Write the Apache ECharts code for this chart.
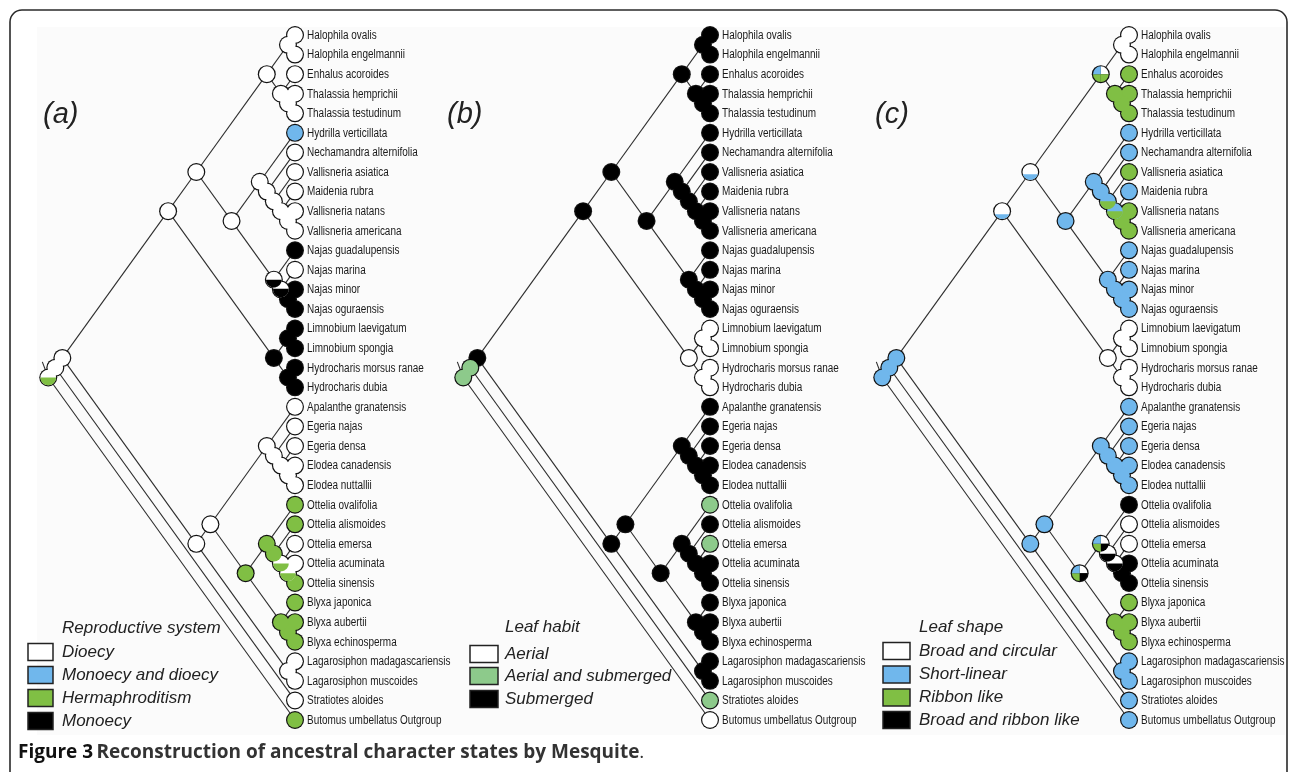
<!DOCTYPE html>
<html><head><meta charset="utf-8">
<script src="https://cdn.jsdelivr.net/npm/echarts@6/dist/echarts.min.js"></script>
<style>html,body{margin:0;padding:0;background:#fff}#c{width:1290px;height:772px}</style>
</head><body><div id="c"></div><script>
// ---------------- data ----------------
const taxa = ['Halophila ovalis','Halophila engelmannii','Enhalus acoroides','Thalassia hemprichii','Thalassia testudinum','Hydrilla verticillata','Nechamandra alternifolia','Vallisneria asiatica','Maidenia rubra','Vallisneria natans','Vallisneria americana','Najas guadalupensis','Najas marina','Najas minor','Najas oguraensis','Limnobium laevigatum','Limnobium spongia','Hydrocharis morsus ranae','Hydrocharis dubia','Apalanthe granatensis','Egeria najas','Egeria densa','Elodea canadensis','Elodea nuttallii','Ottelia ovalifolia','Ottelia alismoides','Ottelia emersa','Ottelia acuminata','Ottelia sinensis','Blyxa japonica','Blyxa aubertii','Blyxa echinosperma','Lagarosiphon madagascariensis','Lagarosiphon muscoides','Stratiotes aloides','Butomus umbellatus Outgroup'];
// topology (leaf indices into taxa)
const tree = [[[[[[[0,1],[2,[3,4]]],[[5,[6,[7,[8,[9,10]]]]],[11,[12,[13,14]]]]],[[15,16],[17,18]]],[[[19,[20,[21,[22,23]]]],[[24,[25,[26,[27,28]]]],[29,[30,31]]]],[32,33]]],34],35];

const panelLabels = ['(a)','(b)','(c)'];
const legendTitles = ['Reproductive system','Leaf habit','Leaf shape'];
const stateNamesA = ['Dioecy','Monoecy and dioecy','Hermaphroditism','Monoecy'];
const stateNamesB = ['Aerial','Aerial and submerged','Submerged'];
const stateNamesC = ['Broad and circular','Short-linear','Ribbon like','Broad and ribbon like'];
const stateColorsA = ['#ffffff','#70b7ec','#80bf44','#000000'];
const stateColorsB = ['#ffffff','#8dca8b','#000000'];
const stateColorsC = ['#ffffff','#70b7ec','#80bf44','#000000'];

const leafStatesA = [0,0,0,0,0,1,0,0,0,0,0,3,0,3,3,3,3,3,3,0,0,0,0,0,2,2,0,0,2,2,2,2,0,0,0,2];
const leafStatesB = [2,2,2,2,2,2,2,2,2,2,2,2,2,2,2,0,0,0,0,2,2,2,2,2,1,2,1,2,2,2,2,2,2,2,1,0];
const leafStatesC = [0,0,2,2,2,1,1,2,1,2,2,1,1,1,1,0,0,0,0,1,1,1,1,1,3,0,0,3,3,2,2,2,1,1,1,1];

// internal node states keyed by leaf span "first-last"
// number = single state; {h:[top,bottom,frac]} = split; {q:[TR,BR,BL,TL]} = quarters
const nodeDefaultA = 0;
const nodeStatesA = {'11-14':{h:[0,3,0.5]},'12-14':{h:[0,3,0.55]},'13-14':3,'15-16':3,'17-18':3,'15-18':3,
  '24-28':2,'25-28':2,'26-28':{h:[0,2,0.5]},'27-28':{h:[0,2,0.5]},'24-31':2,'29-31':2,'30-31':2,'0-35':{h:[0,2,0.5]}};
const nodeDefaultB = 2;
const nodeStatesB = {'15-16':0,'17-18':0,'15-18':0,'0-34':1,'0-35':1};
const nodeDefaultC = 1;
const nodeStatesC = {'0-1':0,'3-4':2,'2-4':2,'0-4':{q:[0,2,2,1]},'0-14':{h:[0,1,0.35]},'0-18':{h:[0,1,0.3]},
  '7-10':{h:[1,2,0.5]},'8-10':{h:[1,2,0.5]},'9-10':2,'15-16':0,'17-18':0,'15-18':0,
  '24-31':{q:[0,3,2,1]},'24-28':{q:[0,3,2,1]},'25-28':{h:[0,3,0.5]},'26-28':{h:[0,3,0.5]},'27-28':3,'29-31':2,'30-31':2};

// ---------------- layout from topology ----------------
function buildTree(t){
  const nodes=[], edges=[];
  function rec(n){
    if (typeof n === 'number'){ const o={first:n,last:n,x:0,y:n,leaf:n}; nodes.push(o); return o; }
    const a=rec(n[0]), b=rec(n[1]);
    const o={first:a.first,last:b.last,x:-(b.last-a.first)/2,y:(a.first+b.last)/2,leaf:-1};
    edges.push([o.x,o.y,a.x,a.y]); edges.push([o.x,o.y,b.x,b.y]);
    nodes.push(o); return o;
  }
  const root=rec(t);
  edges.push([root.x,root.y,root.x-0.42,root.y-0.8]); // root stem
  return {nodes,edges};
}
const T = buildTree(tree);
const panels = [
  {colors:stateColorsA, names:stateNamesA, leaf:leafStatesA, def:nodeDefaultA, states:nodeStatesA},
  {colors:stateColorsB, names:stateNamesB, leaf:leafStatesB, def:nodeDefaultB, states:nodeStatesB},
  {colors:stateColorsC, names:stateNamesC, leaf:leafStatesC, def:nodeDefaultC, states:nodeStatesC}
];
function specOf(p,n){
  const P=panels[p];
  if (n.leaf>=0) return P.leaf[n.leaf];
  const k=n.first+'-'+n.last;
  return (k in P.states)? P.states[k] : P.def;
}

const leafPx = [295, 710, 1129];
const XU = 14.1; // px per x unit
const R = 7.8;

const grids=[], xAxes=[], yAxes=[], series=[];
panels.forEach((P,p)=>{
  grids.push({left: leafPx[p]-18*XU, width: 18*XU, top:35, height:685});
  xAxes.push({type:'value', gridIndex:p, min:-18, max:0, show:false});
  yAxes.push({type:'value', gridIndex:p, min:0, max:35, inverse:true, show:false});
  series.push({type:'custom', xAxisIndex:p, yAxisIndex:p, clip:false, silent:true, z:1,
    data:T.edges, encode:{x:[0,2],y:[1,3]},
    renderItem:(params,api)=>{
      const a=api.coord([api.value(0),api.value(1)]), b=api.coord([api.value(2),api.value(3)]);
      return {type:'line', shape:{x1:a[0],y1:a[1],x2:b[0],y2:b[1]}, style:{stroke:'#2d2d2d',lineWidth:1.1}};
    }});
  const nd = T.nodes.map((n,i)=>[n.x,n.y,i]);
  series.push({type:'custom', xAxisIndex:p, yAxisIndex:p, clip:false, silent:true, z:2,
    data:nd, encode:{x:0,y:1},
    renderItem:(params,api)=>{
      const c=api.coord([api.value(0),api.value(1)]);
      return {type:'circle', shape:{cx:c[0],cy:c[1],r:R+1.2}, style:{fill:'#111'}};
    }});
  series.push({type:'custom', xAxisIndex:p, yAxisIndex:p, clip:false, silent:true, z:3,
    data:nd, encode:{x:0,y:1},
    renderItem:(params,api)=>{
      const c=api.coord([api.value(0),api.value(1)]);
      const n=T.nodes[api.value(2)];
      const s=specOf(p,n), col=P.colors, cx=c[0], cy=c[1];
      const ch=[];
      if (typeof s==='number'){
        ch.push({type:'circle', shape:{cx,cy,r:R}, style:{fill:col[s]}});
      } else if (s.h){
        ch.push({type:'circle', shape:{cx,cy,r:R}, style:{fill:col[s.h[0]]}});
        const y0=cy+R-2*R*s.h[2];
        const a0=Math.asin(Math.max(-1,Math.min(1,(y0-cy)/R)));
        const pts=[];
        for(let i=0;i<=24;i++){const t=a0+(Math.PI-2*a0)*i/24; pts.push([cx+R*Math.cos(t), cy+R*Math.sin(t)]);}
        ch.push({type:'polygon', shape:{points:pts}, style:{fill:col[s.h[1]]}});
      } else if (s.q){
        s.q.forEach((st,i)=>{
          const a=-Math.PI/2+i*Math.PI/2;
          ch.push({type:'sector', shape:{cx,cy,r0:0,r:R,startAngle:a,endAngle:a+Math.PI/2,clockwise:true}, style:{fill:col[st]}});
        });
      }
      return {type:'group', children:ch};
    }});
  series.push({type:'custom', xAxisIndex:p, yAxisIndex:p, clip:false, silent:true, z:4,
    data:taxa.map((t,i)=>[0,i,i]), encode:{x:0,y:1},
    renderItem:(params,api)=>{
      const c=api.coord([api.value(0),api.value(1)]);
      return {type:'text', x:c[0]+12, y:c[1]+0.5, scaleX:0.81,
        style:{x:0,y:0,text:taxa[api.value(2)], fill:'#1a1a1a', font:'12.3px "Liberation Sans", Arial, sans-serif', verticalAlign:'middle', align:'left'}};
    }});
});

// ---------------- graphics: frame, panel labels, legends, caption ----------------
const graphic=[];
graphic.push({type:'rect', z:-10, shape:{x:37,y:27,width:1248,height:708}, style:{fill:'#fbfbfb'}});
graphic.push({type:'rect', z:-5, shape:{x:10,y:10,width:1277,height:820,r:12}, style:{fill:'none',stroke:'#2a2a2a',lineWidth:1.6}});
const labelX=[43,447,875];
panelLabels.forEach((t,p)=>graphic.push({type:'text', x:labelX[p], y:115, style:{text:t, font:'italic 29px "Liberation Sans", Arial, sans-serif', fill:'#222', verticalAlign:'middle'}}));
const leg=[
  {bx:28,bw:25,tx:62,ty:628,rows:[652,675,698,721]},
  {bx:470,bw:28,tx:505,ty:627,rows:[654,676,699]},
  {bx:883,bw:27,tx:919,ty:627,rows:[651,674.5,697.5,720]}
];
panels.forEach((P,p)=>{
  const L=leg[p];
  graphic.push({type:'text', x:L.tx, y:L.ty, style:{text:legendTitles[p], font:'italic 17px "Liberation Sans", Arial, sans-serif', fill:'#222', verticalAlign:'middle'}});
  P.names.forEach((nm,i)=>{
    graphic.push({type:'rect', shape:{x:L.bx,y:L.rows[i]-8.5,width:L.bw,height:17}, style:{fill:P.colors[i],stroke:'#222',lineWidth:1.5}});
    graphic.push({type:'text', x:L.tx, y:L.rows[i], style:{text:nm, font:'italic 17px "Liberation Sans", Arial, sans-serif', fill:'#222', verticalAlign:'middle'}});
  });
});
graphic.push({type:'text', x:18, y:753, style:{
  text:'{a|Figure 3} {b|Reconstruction of ancestral character states by Mesquite}{c|.}',
  verticalAlign:'middle',
  rich:{a:{font:'bold 19px "Open Sans", sans-serif', fill:'#111'},
        b:{font:'bold 19px "Open Sans", sans-serif', fill:'#333'},
        c:{font:'19px "Open Sans", sans-serif', fill:'#333'}}}});

const chart=echarts.init(document.getElementById('c'));
chart.setOption({animation:false, backgroundColor:'#fff', grid:grids, xAxis:xAxes, yAxis:yAxes, series, graphic});
</script></body></html>
